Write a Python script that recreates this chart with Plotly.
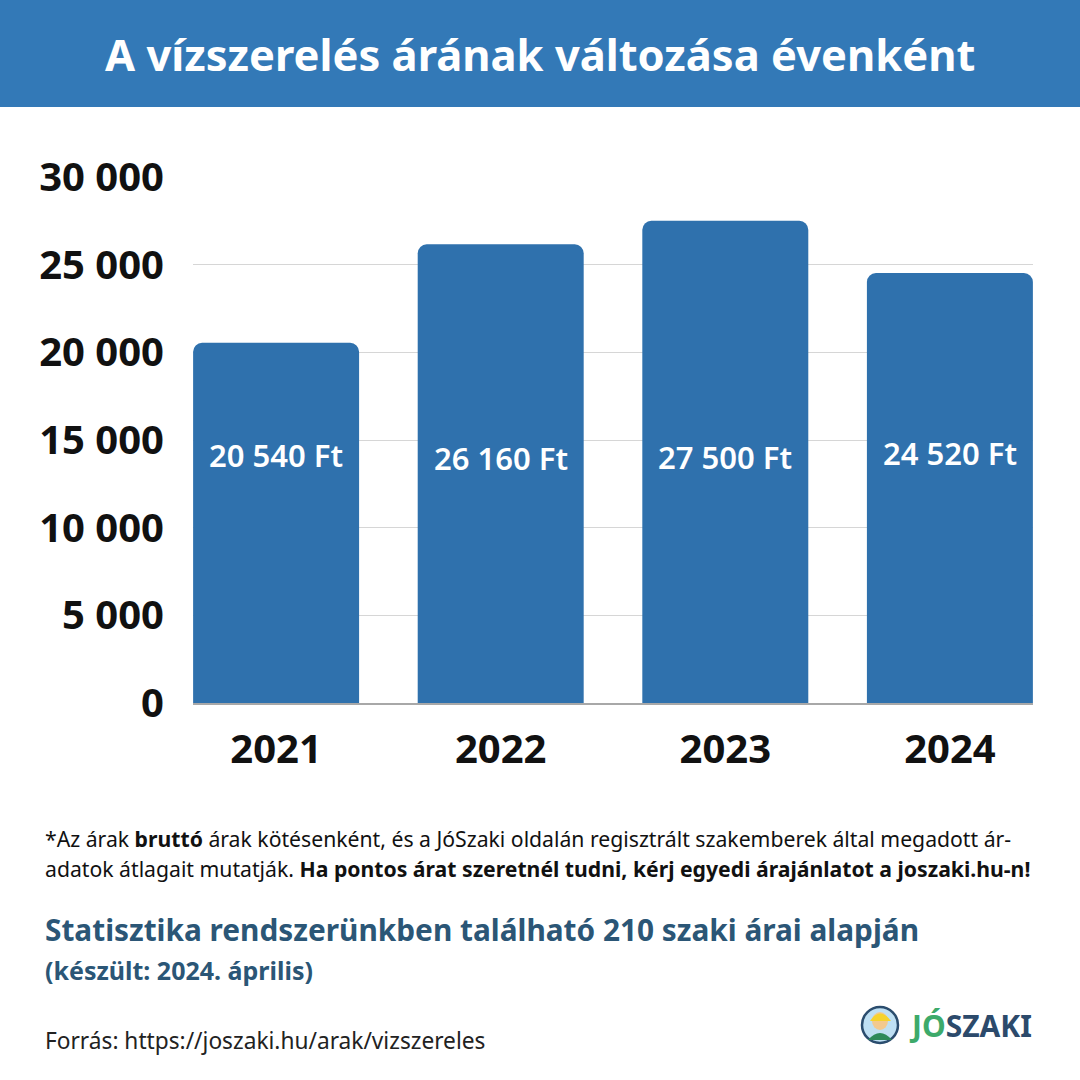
import plotly.graph_objects as go

years = ["2021", "2022", "2023", "2024"]
prices = [20540, 26160, 27500, 24520]
y_ticks = [0, 5000, 10000, 15000, 20000, 25000, 30000]
y_tick_labels = ["0", "5 000", "10 000", "15 000", "20 000", "25 000", "30 000"]

title_text = "A vízszerelés árának változása évenként"
note_line1 = "*Az árak <b>bruttó</b> árak kötésenként, és a JóSzaki oldalán regisztrált szakemberek által megadott ár-"
note_line2 = "adatok átlagait mutatják. <b>Ha pontos árat szeretnél tudni, kérj egyedi árajánlatot a joszaki.hu-n!</b>"
stat_line = "Statisztika rendszerünkben található 210 szaki árai alapján"
date_line = "(készült: 2024. április)"
source_line = "Forrás: https://joszaki.hu/arak/vizszereles"

W, H = 1080, 1080
L, R, T, B = 193, 1033, 177, 703
PW, PH = R - L, B - T

def px(x):
    return (x - L) / PW

def py(y):
    return (B - y) / PH

HEADER = "#3379b7"
BAR = "#2f71ad"
DARKBLUE = "#2b5676"
FONT = "Noto Sans"

def fmt(v):
    return f"{v:,}".replace(",", " ") + " Ft"

fig = go.Figure()
fig.add_trace(go.Bar(
    x=years, y=prices, marker=dict(color=BAR, line=dict(width=0)),
    hoverinfo="skip",
))

fig.update_layout(
    width=W, height=H,
    margin=dict(l=L, r=W - R, t=T, b=H - B),
    paper_bgcolor="white", plot_bgcolor="white",
    bargap=0.261, barcornerradius=9,
    showlegend=False,
    font=dict(family=FONT, color="black"),
)
fig.update_xaxes(
    type="category", range=[-0.37, 3.37],
    tickfont=dict(size=40, family=FONT, color="#111111", weight="bold"),
    ticks="", showgrid=False, showline=True, linecolor="#a8a8a8", linewidth=1.5,
    ticklabelstandoff=10,
)
fig.update_yaxes(
    range=[0, 30000], tickvals=y_ticks, ticktext=y_tick_labels,
    tickfont=dict(size=40, family=FONT, color="#111111", weight="bold"),
    showgrid=True, gridcolor="#d6d6d6", gridwidth=1,
    zeroline=False, showline=False, ticks="", ticklabelstandoff=28,
)

shapes = [
    dict(type="rect", xref="paper", yref="paper", x0=px(0), x1=px(W), y0=py(107), y1=py(0),
         fillcolor=HEADER, line=dict(width=0), layer="below"),
    # logo icon
    dict(type="circle", xref="paper", yref="paper", x0=px(862), x1=px(898), y0=py(1043), y1=py(1007),
         fillcolor="#bfe0f3", line=dict(color="#2b4d6e", width=2.5)),
    dict(type="circle", xref="paper", yref="paper", x0=px(872), x1=px(888), y0=py(1030), y1=py(1012),
         fillcolor="#f3c98e", line=dict(width=0)),
    dict(type="path", xref="paper", yref="paper",
         path=f"M {px(870)},{py(1021)} Q {px(880)},{py(1006)} {px(891)},{py(1021)} Z",
         fillcolor="#f6d32d", line=dict(width=0)),
    dict(type="path", xref="paper", yref="paper",
         path=f"M {px(868)},{py(1040)} Q {px(880)},{py(1026)} {px(892)},{py(1040)} Z",
         fillcolor="#2e8a5a", line=dict(width=0)),
]

label_y = [14150, 14000, 14050, 14250]
anns = []
for i, v in enumerate(prices):
    anns.append(dict(x=i, y=label_y[i], xref="x", yref="y", text=fmt(v), showarrow=False,
                     font=dict(size=31, color="white", family=FONT, weight=600),
                     xanchor="center", yanchor="middle"))

anns += [
    dict(x=px(540), y=py(54), xref="paper", yref="paper", text=f"<b>{title_text}</b>", showarrow=False,
         font=dict(size=43.5, color="white", family=FONT), xanchor="center", yanchor="middle"),
    dict(x=px(43), y=py(838), xref="paper", yref="paper", text=note_line1, showarrow=False,
         font=dict(size=21.2, color="#111111", family=FONT), xanchor="left", yanchor="middle"),
    dict(x=px(43), y=py(868), xref="paper", yref="paper", text=note_line2, showarrow=False,
         font=dict(size=21.2, color="#111111", family=FONT), xanchor="left", yanchor="middle"),
    dict(x=px(43), y=py(929), xref="paper", yref="paper", text=f"<b>{stat_line}</b>", showarrow=False,
         font=dict(size=29.8, color=DARKBLUE, family=FONT), xanchor="left", yanchor="middle"),
    dict(x=px(43), y=py(970), xref="paper", yref="paper", text=f"<b>{date_line}</b>", showarrow=False,
         font=dict(size=25, color=DARKBLUE, family=FONT), xanchor="left", yanchor="middle"),
    dict(x=px(43), y=py(1040), xref="paper", yref="paper", text=source_line, showarrow=False,
         font=dict(size=22.7, color="#222222", family=FONT), xanchor="left", yanchor="middle"),
    dict(x=px(1034), y=py(1025), xref="paper", yref="paper",
         text="<b><span style='color:#3daa6a'>JÓ</span><span style='color:#2c4a6b'>SZAKI</span></b>",
         showarrow=False, font=dict(size=30, family=FONT), xanchor="right", yanchor="middle"),
]

fig.update_layout(shapes=shapes, annotations=anns)
fig.write_html("out.html")
